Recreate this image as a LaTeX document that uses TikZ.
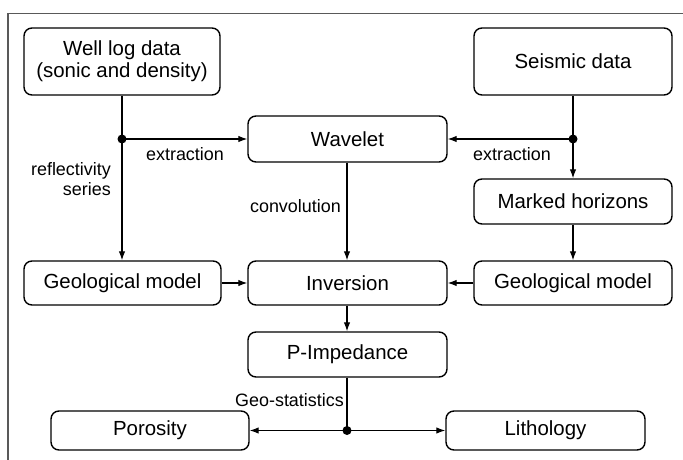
\documentclass[tikz,border=0pt]{standalone}
\usepackage{fontspec}
\setmainfont{Liberation Sans}
\usetikzlibrary{arrows.meta}
\begin{document}
\begin{tikzpicture}[x=1bp,y=-1bp,
  box/.style={draw, line width=1.4bp, rounded corners=8bp, inner sep=0pt, align=center,
    font=\fontsize{20.5}{22}\selectfont},
  lbl/.style={inner sep=0pt, font=\fontsize{18}{20.5}\selectfont},
  conn/.style={line width=1.1bp},
  arr/.style={conn, -{Latex[length=9bp,width=6.5bp]}},
  dot/.style={circle, fill=black, inner sep=0pt, minimum size=9bp}]
\useasboundingbox (0,0) rectangle (683,460);
\draw[line width=1.4bp, black!65] (8,460) -- (8,13.5) -- (683,13.5);
% boxes
\node[box, minimum width=196bp, minimum height=67bp] (well) at (122,61.5) {Well log data\\(sonic and density)};
\node[box, minimum width=198bp, minimum height=67bp] (seis) at (573,61.5) {Seismic data};
\node[box, minimum width=199bp, minimum height=46bp] (wave) at (347.5,139) {Wavelet};
\node[box, minimum width=198bp, minimum height=45bp] (mark) at (573,201.5) {Marked horizons};
\node[box, minimum width=197bp, minimum height=44bp] (geoL) at (122.5,283) {Geological model};
\node[box, minimum width=199bp, minimum height=44bp] (inv) at (347.5,283) {Inversion};
\node[box, minimum width=198bp, minimum height=44bp] (geoR) at (573,283) {Geological model};
\node[box, minimum width=199bp, minimum height=45bp] (pimp) at (347.5,354.5) {P-Impedance};
\node[box, minimum width=198bp, minimum height=39bp] (poro) at (150,430.5) {Porosity};
\node[box, minimum width=199bp, minimum height=39bp] (lith) at (545.5,430.5) {Lithology};
% junction dots
\node[dot] (dL) at (122,139) {};
\node[dot] (dR) at (573,139) {};
\node[dot] (dB) at (347,430.5) {};
% connectors
\draw[conn] (well.south -| dL) -- (dL.center);
\draw[arr] (dL.center) -- (wave.west);
\draw[arr] (dL.center) -- (dL |- geoL.north);
\draw[conn] (seis.south -| dR) -- (dR.center);
\draw[arr] (dR.center) -- (wave.east);
\draw[arr] (dR.center) -- (dR |- mark.north);
\draw[arr] (mark.south -| dR) -- (dR |- geoR.north);
\draw[arr] (wave.south -| dB) -- (dB |- inv.north);
\draw[arr] (geoL.east) -- (inv.west);
\draw[arr] (geoR.west) -- (inv.east);
\draw[arr] (inv.south -| dB) -- (dB |- pimp.north);
\draw[conn] (pimp.south -| dB) -- (dB.center);
\draw[arr] (dB.center) -- (poro.east);
\draw[arr] (dB.center) -- (lith.west);
% labels
\node[lbl] (exL) at (185,154) {extraction};
\node[lbl] (exR) at (512,154) {extraction};
\node[lbl, align=right, anchor=east] (refl) at (111,179) {reflectivity\\series};
\node[lbl, anchor=east] (conv) at (341,206) {convolution};
\node[lbl, anchor=east] (geost) at (344,400) {Geo-statistics};
\end{tikzpicture}
\end{document}
